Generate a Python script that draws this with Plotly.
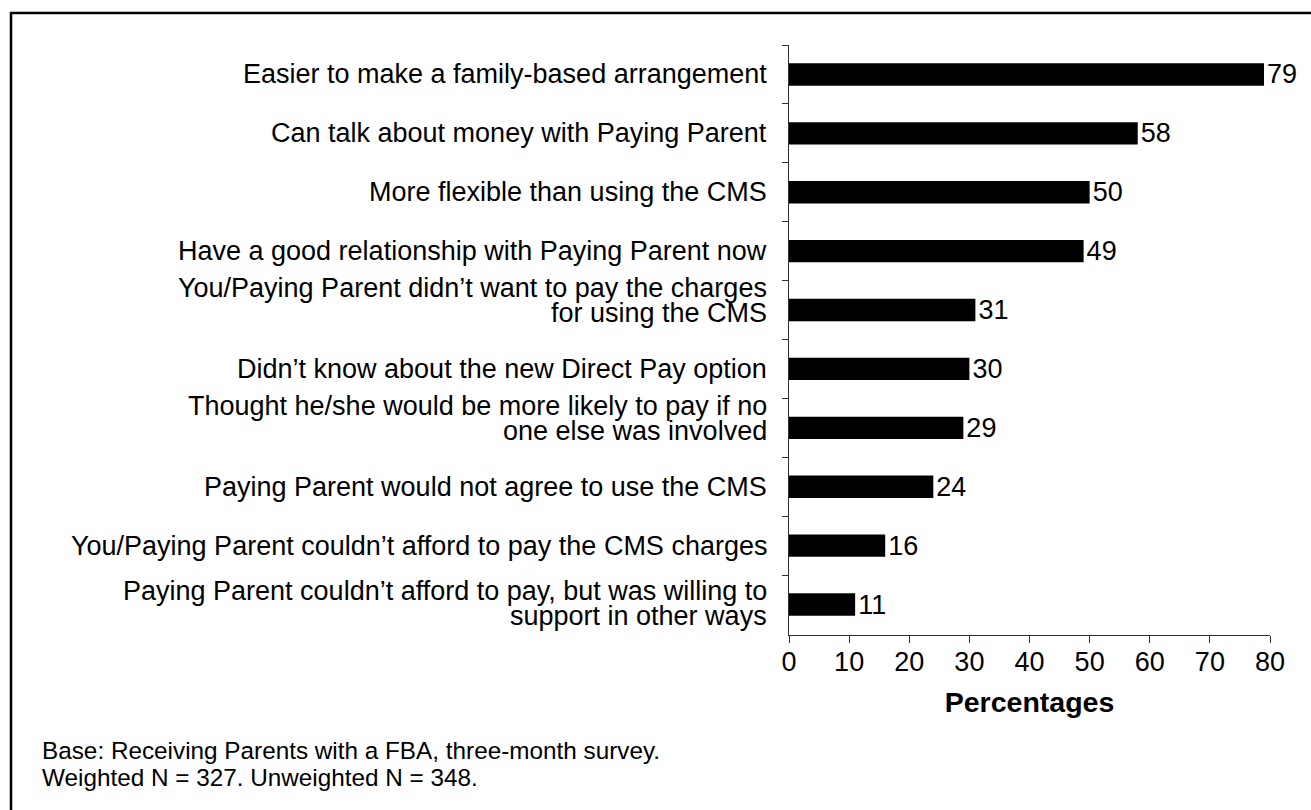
import plotly.graph_objects as go

# Reasons for choosing a family-based arrangement (percent of receiving parents)
reasons = [
    "Easier to make a family-based arrangement",
    "Can talk about money with Paying Parent",
    "More flexible than using the CMS",
    "Have a good relationship with Paying Parent now",
    "You/Paying Parent didn’t want to pay the charges\nfor using the CMS",
    "Didn’t know about the new Direct Pay option",
    "Thought he/she would be more likely to pay if no\none else was involved",
    "Paying Parent would not agree to use the CMS",
    "You/Paying Parent couldn’t afford to pay the CMS charges",
    "Paying Parent couldn’t afford to pay, but was willing to\nsupport in other ways",
]
percentages = [79, 58, 50, 49, 31, 30, 29, 24, 16, 11]
x_ticks = [0, 10, 20, 30, 40, 50, 60, 70, 80]
footer_lines = [
    "Base: Receiving Parents with a FBA, three-month survey.",
    "Weighted N = 327. Unweighted N = 348.",
]

W, H = 1311, 810
L, R, T, B = 789, 41, 45, 175
plot_w = W - L - R
plot_h = H - T - B


def px_x(px):
    return (px - L) / plot_w


def px_y(py):
    return (H - B - py) / plot_h


FONT = "Liberation Sans, Arial, sans-serif"
FS_LABEL = 27
FS_TICK = 27
FS_TITLE = 28.5
FS_FOOT = 24.3
LINE_GAP = 25  # spacing between wrapped category label lines

fig = go.Figure(
    go.Bar(
        x=percentages,
        y=reasons,
        orientation="h",
        marker=dict(color="#000000", line=dict(width=0)),
        texttemplate="%{x}",
        textposition="outside",
        constraintext="none",
        textfont=dict(family=FONT, size=FS_TICK, color="#000000"),
        cliponaxis=False,
    )
)

fig.update_layout(
    width=W,
    height=H,
    margin=dict(l=L, r=R, t=T, b=B, autoexpand=False),
    paper_bgcolor="#ffffff",
    plot_bgcolor="#ffffff",
    bargap=0.62,
    showlegend=False,
    font=dict(family=FONT, size=FS_TICK, color="#000000"),
    uniformtext=dict(mode=False),
)

fig.update_yaxes(
    autorange="reversed",
    showline=True,
    linecolor="#303030",
    linewidth=1.3,
    ticks="outside",
    tickson="boundaries",
    ticklen=6,
    tickwidth=1.3,
    tickcolor="#303030",
    showticklabels=False,
    showgrid=False,
    zeroline=False,
)

fig.update_xaxes(
    range=[0, 80],
    tickvals=x_ticks,
    ticktext=[str(v) for v in x_ticks],
    showline=True,
    linecolor="#303030",
    linewidth=1.3,
    ticks="outside",
    ticklen=7,
    tickwidth=1.3,
    tickcolor="#303030",
    ticklabelstandoff=-5,
    showgrid=False,
    zeroline=False,
    tickfont=dict(family=FONT, size=FS_TICK, color="#000000"),
    title=dict(
        text="<b>Percentages</b>",
        font=dict(family=FONT, size=FS_TITLE, color="#000000"),
        standoff=16,
    ),
)

# Category labels, right-aligned against the value axis; wrapped labels
# keep a tight line spacing
for cat in reasons:
    lines = cat.split("\n")
    if len(lines) == 1:
        shifts = [0]
    elif cat.startswith("Paying Parent couldn"):
        shifts = [LINE_GAP / 2 + 1, -LINE_GAP / 2 + 1]
    else:
        shifts = [LINE_GAP - 3, -3]
    for line, dy in zip(lines, shifts):
        fig.add_annotation(
            text=line,
            xref="paper",
            yref="y",
            x=px_x(769),
            y=cat,
            yshift=dy,
            xanchor="right",
            yanchor="middle",
            showarrow=False,
            font=dict(family=FONT, size=FS_LABEL, color="#000000"),
        )

# Footnote lines under the chart
for i, line in enumerate(footer_lines):
    fig.add_annotation(
        text=line,
        xref="paper",
        yref="paper",
        x=px_x(40),
        y=px_y(750 + 27 * i),
        xanchor="left",
        yanchor="middle",
        showarrow=False,
        font=dict(family=FONT, size=FS_FOOT, color="#000000"),
    )

# Frame around the figure
fig.add_shape(
    type="rect",
    xref="paper",
    yref="paper",
    x0=px_x(11),
    x1=px_x(W + 20),
    y0=px_y(H + 20),
    y1=px_y(13),
    line=dict(color="#000000", width=2.5),
    fillcolor="rgba(0,0,0,0)",
    layer="below",
)

fig.write_html("out.html")
